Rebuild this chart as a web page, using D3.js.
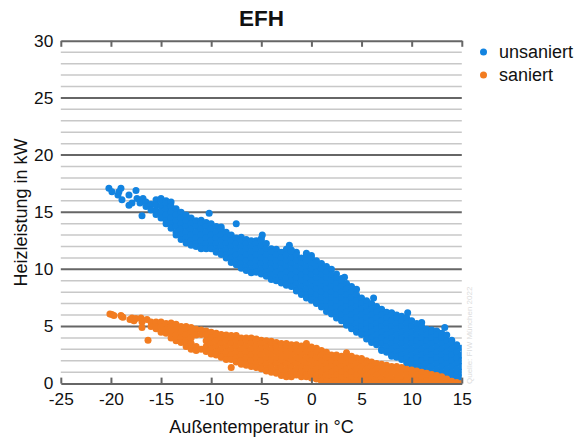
<!DOCTYPE html>
<html><head><meta charset="utf-8">
<script src="https://cdn.jsdelivr.net/npm/d3@7/dist/d3.min.js"></script>
<style>html,body{margin:0;padding:0;background:#fff}svg{display:block}text{font-family:"Liberation Sans",Arial,sans-serif;fill:#111}</style>
</head><body><div id="c"></div>
<script>
const title = "EFH";
const xTitle = "Außentemperatur in °C";
const yTitle = "Heizleistung in kW";
const source = "Quelle: FIW München 2022";
const seriesNames = ["unsaniert", "saniert"];
const seriesColors = ["#1283e0", "#f27c20"];
const xTicks = [-25,-20,-15,-10,-5,0,5,10,15];
const yMajor = [0,5,10,15,20,25,30];
const yMinor = [1,2,3,4,6,7,8,9,11,12,13,14,16,17,18,19,21,22,23,24,26,27,28,29];

// single readings [temperature, kW]
const unsaniertSingles = [[-20.2,17.1],[-19.9,16.8],[-19.3,16.5],[-19,17.1],[-19.2,16.8],[-18.9,16.1],[-18.2,16.5],[-17.9,15.8],[-18.2,15.6],[-17.5,16.9],[-17.4,16.2],[-17.1,15.8],[-16.9,14.7],[-16.8,16.2],[-10.2,14.9],[-7.5,14.0],[-4.9,13.0],[-2.2,12.1],[-1.5,11.5],[-0.5,11.4],[3.3,9.3],[6.2,7.5],[9.6,6.2],[11,5.35],[13.3,4.9]];
// columns: temperature followed by kW readings
const unsaniertColumns = [
[-16.5,15.9,15.5],[-16,15.7,15.2],[-15.5,16.1,15.6,15.1,14.8],[-15,16.2,16,15.5,15,14.5],
[-14.5,16,15.75,15.25,14.75,14.25,14],[-14,15.9,15.5,15,14.5,14,13.6],[-13.5,15.3,14.75,14.25,13.75,13.25,13],[-13,15,14.5,14,13.5,13,12.6],
[-12.5,14.75,14.25,13.75,13.25,12.75,12.3],[-12,14.5,14,13.5,13,12.5,12.1],[-11.5,14.25,13.75,13.25,12.75,12.25,12],[-11,14.3,14,13.5,13,12.5,12,11.8],
[-10.5,14.1,13.75,13.25,12.75,12.25,11.8],[-10,14,13.5,13,12.5,12,11.8],[-9.5,13.75,13.25,12.75,12.25,11.75,11.5],[-9,13.7,13.5,13,12.5,12,11.5,11.3],
[-8.5,13.25,12.75,12.25,11.75,11.25,11],[-8,13,12.5,12,11.5,11,10.6],[-7.5,12.75,12.25,11.75,11.25,10.75,10.4],[-7,12.8,12.5,12,11.5,11,10.5,10.1],
[-6.5,12.6,12.25,11.75,11.25,10.75,10.25,9.9],[-6,12.5,12,11.5,11,10.5,10,9.7],[-5.5,12.5,12.25,11.75,11.25,10.75,10.25,9.75],[-5,12.7,12.5,12,11.5,11,10.5,10,9.6],
[-4.5,12.25,11.75,11.25,10.75,10.25,9.75,9.4],[-4,11.8,11.5,11,10.5,10,9.5,9.1],[-3.5,11.75,11.25,10.75,10.25,9.75,9.25,9],[-3,11.5,11,10.5,10,9.5,9,8.8],
[-2.5,11.75,11.25,10.75,10.25,9.75,9.25,8.75,8.6],[-2,11.7,11.5,11,10.5,10,9.5,9,8.5],[-1.5,11.25,10.75,10.25,9.75,9.25,8.75,8.25,8.1],[-1,11,10.5,10,9.5,9,8.5,8,7.8],
[-0.5,11.25,10.75,10.25,9.75,9.25,8.75,8.25,7.75,7.5],[0,11.2,11,10.5,10,9.5,9,8.5,8,7.5,7.3],[0.5,10.75,10.25,9.75,9.25,8.75,8.25,7.75,7.25,7],[1,10.5,10,9.5,9,8.5,8,7.5,7,6.7],
[1.5,10.25,9.75,9.25,8.75,8.25,7.75,7.25,6.75,6.3],[2,10,9.5,9,8.5,8,7.5,7,6.5,6.1],[2.5,9.6,9.25,8.75,8.25,7.75,7.25,6.75,6.25,5.75],[3,9.2,9,8.5,8,7.5,7,6.5,6,5.5],
[3.5,8.75,8.25,7.75,7.25,6.75,6.25,5.75,5.25,5.1],[4,8.5,8,7.5,7,6.5,6,5.5,5,4.8],[4.5,8.25,7.75,7.25,6.75,6.25,5.75,5.25,4.75,4.5],[5,7.5,7,6.5,6,5.5,5,4.5,4.3],
[5.5,7.25,6.75,6.25,5.75,5.25,4.75,4.25,3.9],[6,7,6.5,6,5.5,5,4.5,4,3.6],[6.5,6.75,6.25,5.75,5.25,4.75,4.25,3.75,3.4],[7,6.5,6,5.5,5,4.5,4,3.5,3,2.9],
[7.5,6.25,5.75,5.25,4.75,4.25,3.75,3.25,2.75],[8,6.2,6,5.5,5,4.5,4,3.5,3,2.5,2.4],[8.5,6,5.75,5.25,4.75,4.25,3.75,3.25,2.75,2.3],[9,5.9,5.5,5,4.5,4,3.5,3,2.5,2.1],
[9.5,5.75,5.25,4.75,4.25,3.75,3.25,2.75,2.25,1.8],[10,5.5,5,4.5,4,3.5,3,2.5,2,1.6],[10.5,5.25,4.75,4.25,3.75,3.25,2.75,2.25,1.75,1.4],[11,5,4.5,4,3.5,3,2.5,2,1.5,1.2],
[11.5,4.75,4.25,3.75,3.25,2.75,2.25,1.75,1.25,1.1],[12,4.7,4.5,4,3.5,3,2.5,2,1.5,1],[12.5,4.6,4.25,3.75,3.25,2.75,2.25,1.75,1.25,0.8],[13,4.4,4,3.5,3,2.5,2,1.5,1,0.7],
[13.5,4.25,3.75,3.25,2.75,2.25,1.75,1.25,0.8],[14,3.8,3.5,3,2.5,2,1.5,1,0.7],[14.5,3.4,3.25,2.75,2.25,1.75,1.25,0.75,0.5],[15,3.1,2.5,2,1.5,1,0.5]
];
const saniertSingles = [[-20.1,6.1],[-19.9,6.05],[-19.7,5.95],[-19,5.95],[-18.9,5.85],[-18.8,5.8],[-18.1,5.6],[-17.9,5.75],[-17.7,5.5],[-17.5,5.7],[-17,5.75],[-16.9,5.4],[-16.9,4.9],[-16.3,3.8],[-16.4,5.6],[-8,1.4]];
const saniertColumns = [
[-16,5.4,5],[-15.5,5.4,5,4.8],[-15,5.4,5,4.5],[-14.5,5.25,4.75,4.4],[-14,5.3,5,4.5,4],[-13.5,5.2,4.75,4.25,3.75],[-13,5,4.5,4,3.6],
[-12.5,5,4.75,4.25,3.75,3.25],[-12,4.9,4.5,4,3.5,3],[-11.5,4.75,4.25,3.25,2.9],[-11,4.7,4.3,3],[-10.5,4.6,4.25,3.75,3.25,2.8],[-10,4.5,4,3.5,3,2.6],
[-9.5,4.4,4.25,3.75,3.25,2.75,2.5],[-9,4.3,4,3.5,3,2.5,2.3],[-8.5,4.25,3.75,3.25,2.75,2.25,2.1],[-8,4.2,4,3.5,3,2.5,2.1],[-7.5,4.2,3.75,3.25,2.75,2.25,1.9],[-7,4,3.5,3,2.5,2,1.7],
[-6.5,4,3.75,3.25,2.75,2.25,1.75,1.6],[-6,4,3.5,3,2.5,2,1.5],[-5.5,3.9,3.75,3.25,2.75,2.25,1.75,1.4],[-5,3.8,3.5,3,2.5,2,1.5,1.3],[-4.5,3.75,3.25,2.75,2.25,1.75,1.25,1.1],[-4,3.7,3.5,3,2.5,2,1.5,1],
[-3.5,3.6,3.25,2.75,2.25,1.75,1.25,0.9],[-3,3.5,3,2.5,2,1.5,1,0.7],[-2.5,3.5,3.25,2.75,2.25,1.75,1.25,0.75,0.6],[-2,3.4,3,2.5,2,1.5,1,0.6],[-1.5,3.4,3.25,2.75,2.25,1.75,1.25,0.75],[-1,3.3,3,2.5,2,1.5,1,0.6],
[-0.5,3.5,3.25,2.75,2.25,1.75,1.25,0.75,0.6],[0,3.2,3,2.5,2,1.5,1,0.5],[0.5,3.1,2.75,2.25,1.75,1.25,0.75,0.4],[1,2.9,2.5,2,1.5,1,0.5,0.2],[1.5,2.75,2.25,1.75,1.25,0.75,0.25],[2,2.5,2,1.5,1,0.5,0.2],
[2.5,2.5,2.25,1.75,1.25,0.75,0.25],[3,2.4,2,1.5,1,0.5,0.1],[3.5,2.7,2.25,1.75,1.25,0.75,0.25],[4,2.4,2,1.5,1,0.5,0.1],[4.5,2.25,1.75,1.25,0.75,0.25],[5,2.2,2,1.5,1,0.5,0.1],[5.5,2,1.75,1.25,0.75,0.25],
[6,1.9,1.5,1,0.5,0.1],[6.5,1.75,1.25,0.75,0.25],[7,1.7,1.5,1,0.5,0.1],[7.5,1.6,1.25,0.75,0.25],[8,1.5,1,0.5,0.1],[8.5,1.5,1.25,0.75,0.25],[9,1.4,1,0.5,0.1],[9.5,1.25,0.75,0.25],[10,1.2,1,0.5,0.1],[10.5,1.1,0.75,0.25],
[11,1,0.5,0.1],[11.5,0.9,0.75,0.25],[12,0.8,0.5,0.1],[12.5,0.7,0.25],[13,0.6,0.1],[13.5,0.4,0.1],[14,0.2,0],[14.5,0.1],[15,0]
];

const W = 576, H = 440, R = 3.5;
const x = d3.scaleLinear().domain([-25,15]).range([60.8,461.8]);
const y = d3.scaleLinear().domain([0,30]).range([383.6,40.8]);
const expand = cols => cols.flatMap(c => c.slice(1).map(k => [c[0],k]));
const unsaniert = unsaniertSingles.concat(expand(unsaniertColumns));
const saniert = saniertSingles.concat(expand(saniertColumns));

const svg = d3.select("#c").append("svg").attr("width",W).attr("height",H);
svg.append("clipPath").attr("id","plot").append("rect")
  .attr("x",x(-25)).attr("y",y(30)).attr("width",x(15)-x(-25)).attr("height",y(0)-y(30));

// grid
const grid = svg.append("g");
grid.selectAll("line.minor").data(yMinor).join("line").attr("class","minor")
  .attr("x1",x(-25)).attr("x2",x(15)).attr("y1",d=>y(d)).attr("y2",d=>y(d))
  .attr("stroke","#c8c8c8").attr("stroke-width",1.5);
grid.selectAll("line.major").data(yMajor.filter(d=>d>0&&d<30)).join("line").attr("class","major")
  .attr("x1",x(-25)).attr("x2",x(15)).attr("y1",d=>y(d)).attr("y2",d=>y(d))
  .attr("stroke","#666").attr("stroke-width",2);

// points
const pts = svg.append("g").attr("clip-path","url(#plot)");
[unsaniert, saniert].forEach((data,i)=>{
  pts.append("g").attr("fill",seriesColors[i]).selectAll("circle").data(data).join("circle")
    .attr("cx",d=>x(d[0])).attr("cy",d=>y(d[1])).attr("r",R);
});

// axes
const styleAxis = g => { g.selectAll("path,line").attr("stroke","#666").attr("stroke-width",2); };
const axB = d3.axisBottom(x).tickValues(xTicks).tickFormat(d=>String(d)).tickSize(0).tickSizeOuter(0);
const gB = svg.append("g").attr("transform",`translate(0,${y(0)})`).call(axB);
gB.selectAll("line").attr("y1",0).attr("y2",-6);
gB.selectAll("text").attr("y",0).attr("dy",0).attr("transform","translate(0,21.5)").attr("font-size",17.3).style("fill","#111").style("font-family",'"Liberation Sans",Arial,sans-serif');
styleAxis(gB);
const axT = d3.axisTop(x).tickValues(xTicks).tickFormat("").tickSize(0).tickSizeOuter(0);
const gT = svg.append("g").attr("transform",`translate(0,${y(30)})`).call(axT);
gT.selectAll("line").attr("y1",0).attr("y2",6);
styleAxis(gT);
const axL = d3.axisLeft(y).tickValues(yMajor).tickFormat(d=>String(d)).tickSize(0);
const gL = svg.append("g").attr("transform",`translate(${x(-25)-7.5},0)`).call(axL);
gL.select("path").remove();
gL.selectAll("text").attr("x",0).attr("dy",0)
  .attr("transform","translate(0,5.3)").attr("font-size",17.3).style("fill","#111").style("font-family",'"Liberation Sans",Arial,sans-serif');

// titles
svg.append("text").attr("x",261.5).attr("y",25.5).attr("text-anchor","middle").attr("font-size",22.5).attr("font-weight","bold").text(title);
svg.append("text").attr("x",261.5).attr("y",433).attr("text-anchor","middle").attr("font-size",18).text(xTitle);
svg.append("text").attr("transform","translate(27,212.5) rotate(-90)").attr("text-anchor","middle").attr("font-size",18).text(yTitle);
svg.append("text").attr("transform","translate(471.5,384) rotate(-90)").attr("font-size",8).style("fill","#dcdcdc").text(source);

// legend
seriesNames.forEach((n,i)=>{
  const ly = 52 + i*23;
  svg.append("circle").attr("cx",483.5).attr("cy",ly).attr("r",R).attr("fill",seriesColors[i]);
  svg.append("text").attr("x",499).attr("y",ly+6).attr("font-size",18).text(n);
});
</script></body></html>
